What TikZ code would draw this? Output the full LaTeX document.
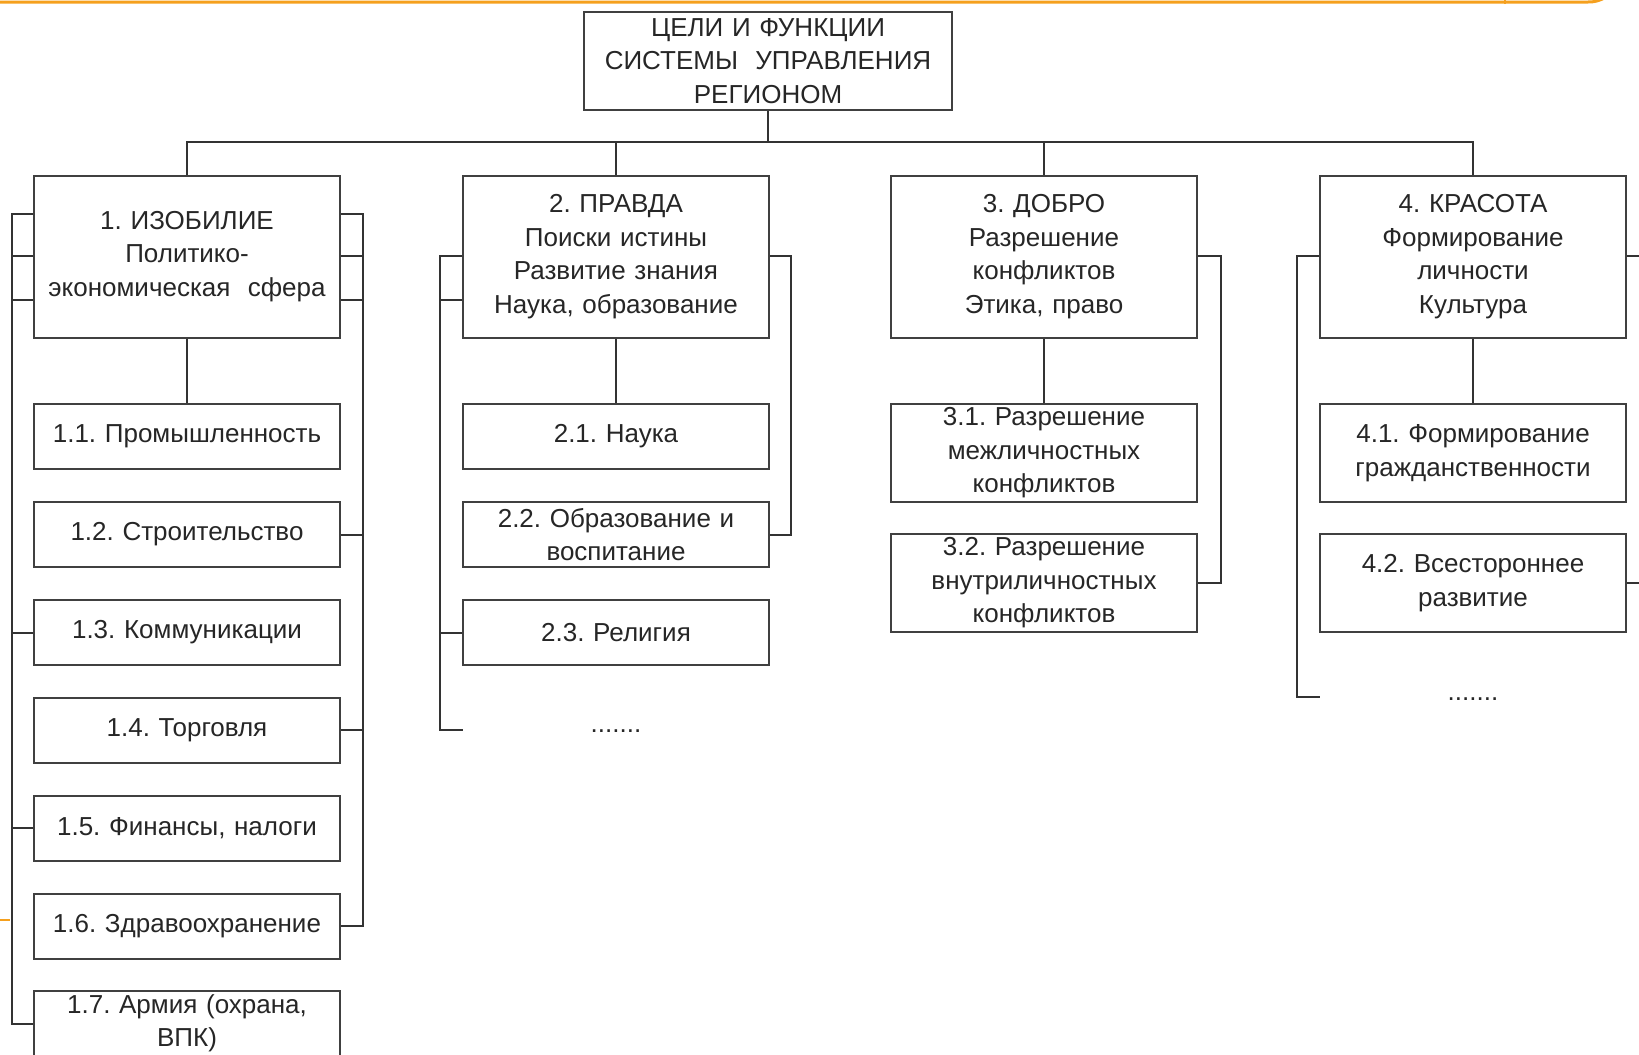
\documentclass[tikz,border=0pt]{standalone}
\usepackage{fontspec}
\setmainfont{Liberation Sans}
\definecolor{slideorange}{HTML}{F5A01E}
\frenchspacing
\begin{document}
\begin{tikzpicture}[x=0.5pt,y=-0.5pt,
  font=\fontsize{13}{16.75}\selectfont,
  box/.style={draw=black!75, line width=1pt, fill=white, inner sep=0pt,
    align=center, text width=150pt, minimum width=153pt, text=black!85},
  mainbox/.style={box, minimum height=81pt},
  subbox/.style={box, minimum height=32.5pt},
  tallbox/.style={box, minimum height=49pt},
  topbox/.style={box, text width=180pt, minimum width=184pt, minimum height=48.75pt},
  conn/.style={draw=black!80, line width=1pt},
  orangeline/.style={draw=slideorange, line width=1.5pt}]
\useasboundingbox[fill=white] (0,0) rectangle (1639,1055);

% slide decorations
\draw[orangeline] (0,2) -- (1588,2) to[out=0,in=-150] (1606,-3);
\draw[draw=slideorange, line width=0.8pt] (1505,0) -- (1505,4);
\draw[draw=slideorange, line width=0.8pt] (0,920) -- (10,920);

% nodes
\node[topbox] (top) at (768,61) {ЦЕЛИ И ФУНКЦИИ\\СИСТЕМЫ\ \ УПРАВЛЕНИЯ\\РЕГИОНОМ};

\node[mainbox] (m1) at (187,256.6) {1. ИЗОБИЛИЕ\\Политико-\\экономическая\ \ сфера};
\node[mainbox] (m2) at (616,256.6) {2. ПРАВДА\\Поиски истины\\Развитие знания\\Наука, образование};
\node[mainbox] (m3) at (1044,256.6) {3. ДОБРО\\Разрешение\\конфликтов\\Этика, право};
\node[mainbox] (m4) at (1473,256.6) {4. КРАСОТА\\Формирование\\личности\\Культура};

\node[subbox] (s11) at (187,436) {1.1. Промышленность};
\node[subbox] (s12) at (187,534.5) {1.2. Строительство};
\node[subbox] (s13) at (187,632.5) {1.3. Коммуникации};
\node[subbox] (s14) at (187,730) {1.4. Торговля};
\node[subbox] (s15) at (187,828) {1.5. Финансы, налоги};
\node[subbox] (s16) at (187,926) {1.6. Здравоохранение};
\node[subbox] (s17) at (187,1023.5) {1.7. Армия (охрана,\\ВПК)};

\node[subbox] (s21) at (616,436) {2.1. Наука};
\node[subbox] (s22) at (616,534.5) {2.2. Образование и\\воспитание};
\node[subbox] (s23) at (616,632.5) {2.3. Религия};
\node[text=black!85] (d2) at (616,731) {.......};

\node[tallbox] (s31) at (1044,453) {3.1. Разрешение\\межличностных\\конфликтов};
\node[tallbox] (s32) at (1044,583) {3.2. Разрешение\\внутриличностных\\конфликтов};

\node[tallbox] (s41) at (1473,453) {4.1. Формирование\\гражданственности};
\node[tallbox] (s42) at (1473,583) {4.2. Всестороннее\\развитие};
\node[text=black!85] (d4) at (1473,699) {.......};

% tree connectors
\coordinate (bus) at (768,142);
\draw[conn] (top.south) -- (bus);
\draw[conn] (m1.north) |- (bus) -| (m4.north);
\draw[conn] (m2.north) -- (m2.north |- bus);
\draw[conn] (m3.north) -- (m3.north |- bus);
\draw[conn] (m1.south) -- (s11.north);
\draw[conn] (m2.south) -- (s21.north);
\draw[conn] (m3.south) -- (s31.north);
\draw[conn] (m4.south) -- (s41.north);

% column 1 side connectors
\draw[conn] (m1.west |- 0,214) -- (11.5,214) -- (11.5,1023.5) -- (s17.west);
\draw[conn] (m1.west |- 0,256) -- (11.5,256);
\draw[conn] (m1.west |- 0,300) -- (11.5,300);
\draw[conn] (s13.west) -- (11.5,632.5);
\draw[conn] (s15.west) -- (11.5,828);
\draw[conn] (m1.east |- 0,214) -- (363,214) -- (363,926) -- (s16.east);
\draw[conn] (m1.east |- 0,256) -- (363,256);
\draw[conn] (m1.east |- 0,300) -- (363,300);
\draw[conn] (s12.east) -- (363,534.5);
\draw[conn] (s14.east) -- (363,730);

% column 2 side connectors
\coordinate (e2) at (463,730);
\draw[conn] (m2.west |- 0,256) -- (440,256) -- (440,730) -- (e2);
\draw[conn] (m2.west |- 0,300) -- (440,300);
\draw[conn] (s23.west) -- (440,632.5);
\draw[conn] (m2.east |- 0,256) -- (791,256) -- (791,534.5) -- (s22.east);

% column 3 side connectors
\draw[conn] (m3.east |- 0,256) -- (1221,256) -- (1221,583) -- (s32.east);

% column 4 side connectors
\coordinate (e4) at (1320,697);
\draw[conn] (m4.west |- 0,256) -- (1297,256) -- (1297,697) -- (e4);
\coordinate (r4a) at (1639,256);
\coordinate (r4b) at (1639,583);
\draw[conn] (m4.east |- 0,256) -- (r4a);
\draw[conn] (s42.east) -- (r4b);
\end{tikzpicture}
\end{document}
